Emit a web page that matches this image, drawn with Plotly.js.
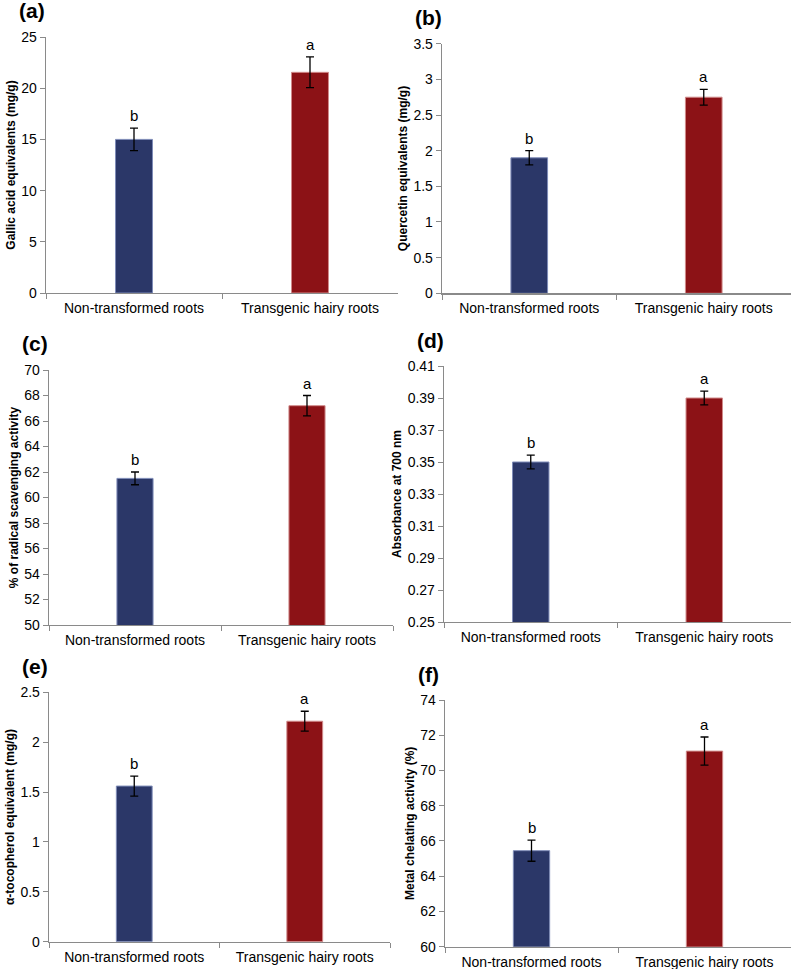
<!DOCTYPE html>
<html>
<head>
<meta charset="utf-8">
<script src="https://cdn.plot.ly/plotly-3.0.1.min.js"></script>
<style>
  html, body { margin: 0; padding: 0; background: #fff; }
  #fig { width: 791px; height: 969px; }
</style>
</head>
<body>
<div id="fig"></div>
<script>
var cats = ['Non-transformed roots', 'Transgenic hairy roots'];
var colors = ['#2b3768', '#8c1216'];
var lineColors = ['#7f8cb8', '#d08a8a'];
var letters = ['b', 'a'];

// one entry per panel (a)..(f)
var panelNames = ['(a)', '(b)', '(c)', '(d)', '(e)', '(f)'];
var means = [[15.0, 21.55], [1.9, 2.75], [61.5, 67.2], [0.35, 0.39], [1.56, 2.21], [65.45, 71.1]];
var errs = [[1.1, 1.5], [0.1, 0.11], [0.5, 0.8], [0.0043, 0.0043], [0.1, 0.1], [0.6, 0.8]];
var yTitles = ['Gallic acid equivalents (mg/g)', 'Quercetin equivalents (mg/g)',
  '% of radical scavenging activity', 'Absorbance at 700 nm',
  'α-tocopherol equivalent (mg/g)', 'Metal chelating activity (%)'];
var yRanges = [[0, 25], [0, 3.5], [50, 70], [0.25, 0.41], [0, 2.5], [60, 74]];
var yDtick = [5, 0.5, 2, 0.02, 0.5, 2];

// plot areas in pixels [x0, x1, y0(top), y1(bottom)]
var W = 791, H = 969;
var boxes = [
  [46, 398, 37, 293],
  [442, 791, 43.7, 293.3],
  [49, 393, 370, 625],
  [444, 791, 366, 622],
  [49, 390, 692.3, 941.7],
  [445, 791, 700, 946.7]
];

var data = [];
var annotations = [];
var layout = {
  width: W, height: H,
  margin: {l: 0, r: 0, t: 0, b: 0},
  paper_bgcolor: '#fff', plot_bgcolor: '#fff',
  showlegend: false,
  font: {family: 'Liberation Sans, Arial, sans-serif', color: '#000'},
  bargap: 0
};

for (var i = 0; i < 6; i++) {
  var n = i === 0 ? '' : String(i + 1);
  var b = boxes[i];
  data.push({
    type: 'bar',
    x: cats, y: means[i],
    width: 0.21,
    marker: {color: colors, line: {color: lineColors, width: 1}},
    error_y: {type: 'data', array: errs[i], visible: true, color: '#000', thickness: 1.3, width: 4},
    xaxis: 'x' + n, yaxis: 'y' + n,
    hoverinfo: 'skip'
  });
  layout['xaxis' + n] = {
    domain: [b[0] / W, b[1] / W],
    anchor: 'y' + n,
    type: 'category',
    showgrid: false, zeroline: false,
    showline: true, linecolor: '#8a8a8a', linewidth: 1.3,
    ticks: 'outside', tickson: 'boundaries', ticklen: 5, tickcolor: '#8a8a8a',
    ticklabelstandoff: 2,
    tickfont: {size: 14, color: '#000'}
  };
  layout['yaxis' + n] = {
    domain: [1 - b[3] / H, 1 - b[2] / H],
    anchor: 'x' + n,
    range: yRanges[i], dtick: yDtick[i], tick0: yRanges[i][0],
    showgrid: false, zeroline: false,
    showline: true, linecolor: '#8a8a8a', linewidth: 1.3,
    ticks: 'outside', ticklen: 5, tickcolor: '#8a8a8a',
    tickfont: {size: 14, color: '#000'},
    title: {text: '<b>' + yTitles[i] + '</b>', font: {size: 12, color: '#000'}, standoff: 3}
  };
  for (var j = 0; j < 2; j++) {
    annotations.push({
      xref: 'x' + n, yref: 'y' + n,
      x: cats[j], y: means[i][j] + errs[i][j],
      text: letters[j], showarrow: false,
      yanchor: 'bottom', yshift: 2,
      font: {size: 15, color: '#000'}
    });
  }
  annotations.push({
    xref: 'paper', yref: 'paper',
    x: (b[0] - 29) / W, y: 1 - (b[2] - 26) / H,
    text: '<b>' + panelNames[i] + '</b>', showarrow: false,
    xanchor: 'left', yanchor: 'middle',
    font: {size: 21, color: '#000'}
  });
}
layout.annotations = annotations;

Plotly.newPlot('fig', data, layout, {displayModeBar: false, staticPlot: true});
</script>
</body>
</html>
